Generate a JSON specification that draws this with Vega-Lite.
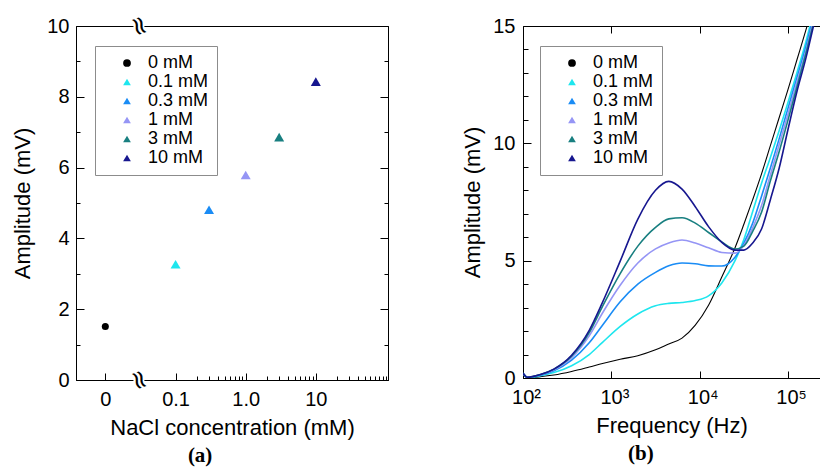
{
  "$schema": "https://vega.github.io/schema/vega-lite/v6.json",
  "background": "white",
  "padding": {"left": 11, "top": 10, "right": 0, "bottom": 2},
  "bounds": "flush",
  "spacing": 135,
  "config": {
    "font": "Liberation Sans",
    "view": {"stroke": "black", "strokeWidth": 1},
    "axis": {"grid": false, "domainColor": "black", "tickColor": "black", "labelColor": "black", "titleColor": "black", "labelFont": "Liberation Sans", "titleFont": "Liberation Sans", "labelFontSize": 20, "titleFontSize": 22, "titleFontWeight": "normal", "domainWidth": 1, "tickWidth": 1},
    "legend": {"fillColor": "white", "strokeColor": "#8c8c8c", "padding": 8, "labelFont": "Liberation Sans", "labelFontSize": 18, "labelColor": "black", "symbolSize": 60, "symbolOffset": 15, "labelOffset": 12, "rowPadding": 1, "symbolStrokeWidth": 0, "symbolOpacity": 1}
  },
  "datasets": {
    "pts": [
      {"c": "0 mM", "conc": 0, "amp": 1.51},
      {"c": "0.1 mM", "conc": 0.1, "amp": 3.27},
      {"c": "0.3 mM", "conc": 0.3, "amp": 4.81},
      {"c": "1 mM", "conc": 1, "amp": 5.79},
      {"c": "3 mM", "conc": 3, "amp": 6.86},
      {"c": "10 mM", "conc": 10, "amp": 8.43}
    ],
    "curves": [
      {"c":"0 mM","f":100,"a":0.2},{"c":"0 mM","f":112,"a":0.0},{"c":"0 mM","f":158,"a":0.06},{"c":"0 mM","f":224,"a":0.13},{"c":"0 mM","f":355,"a":0.28},{"c":"0 mM","f":562,"a":0.47},{"c":"0 mM","f":794,"a":0.62},{"c":"0 mM","f":1259,"a":0.8},{"c":"0 mM","f":1995,"a":0.95},{"c":"0 mM","f":3162,"a":1.2},{"c":"0 mM","f":4467,"a":1.45},{"c":"0 mM","f":6310,"a":1.7},{"c":"0 mM","f":8913,"a":2.25},{"c":"0 mM","f":12589,"a":3.1},{"c":"0 mM","f":17783,"a":4.3},{"c":"0 mM","f":25119,"a":5.55},{"c":"0 mM","f":31623,"a":6.55},{"c":"0 mM","f":39811,"a":7.6},{"c":"0 mM","f":50119,"a":8.7},{"c":"0 mM","f":63096,"a":9.9},{"c":"0 mM","f":79433,"a":11.1},{"c":"0 mM","f":100000,"a":12.3},{"c":"0 mM","f":125893,"a":13.55},{"c":"0 mM","f":158489,"a":14.8},{"c":"0 mM","f":199526,"a":16.1},
      {"c":"0.1 mM","f":100,"a":0.2},{"c":"0.1 mM","f":112,"a":0.02},{"c":"0.1 mM","f":158,"a":0.1},{"c":"0.1 mM","f":224,"a":0.23},{"c":"0.1 mM","f":355,"a":0.52},{"c":"0.1 mM","f":562,"a":1.0},{"c":"0.1 mM","f":794,"a":1.52},{"c":"0.1 mM","f":1259,"a":2.2},{"c":"0.1 mM","f":1995,"a":2.73},{"c":"0.1 mM","f":3162,"a":3.08},{"c":"0.1 mM","f":4467,"a":3.18},{"c":"0.1 mM","f":6310,"a":3.22},{"c":"0.1 mM","f":8913,"a":3.3},{"c":"0.1 mM","f":12589,"a":3.5},{"c":"0.1 mM","f":17783,"a":4.05},{"c":"0.1 mM","f":25119,"a":5.0},{"c":"0.1 mM","f":31623,"a":5.9},{"c":"0.1 mM","f":39811,"a":7.1},{"c":"0.1 mM","f":50119,"a":8.3},{"c":"0.1 mM","f":63096,"a":9.4},{"c":"0.1 mM","f":79433,"a":10.55},{"c":"0.1 mM","f":100000,"a":11.75},{"c":"0.1 mM","f":125893,"a":13.0},{"c":"0.1 mM","f":158489,"a":14.3},{"c":"0.1 mM","f":199526,"a":15.8},
      {"c":"0.3 mM","f":100,"a":0.2},{"c":"0.3 mM","f":112,"a":0.03},{"c":"0.3 mM","f":158,"a":0.12},{"c":"0.3 mM","f":224,"a":0.31},{"c":"0.3 mM","f":355,"a":0.76},{"c":"0.3 mM","f":562,"a":1.5},{"c":"0.3 mM","f":794,"a":2.25},{"c":"0.3 mM","f":1259,"a":3.25},{"c":"0.3 mM","f":1995,"a":4.0},{"c":"0.3 mM","f":3162,"a":4.5},{"c":"0.3 mM","f":4467,"a":4.78},{"c":"0.3 mM","f":6310,"a":4.9},{"c":"0.3 mM","f":8913,"a":4.87},{"c":"0.3 mM","f":12589,"a":4.78},{"c":"0.3 mM","f":17783,"a":4.77},{"c":"0.3 mM","f":25119,"a":5.15},{"c":"0.3 mM","f":31623,"a":5.75},{"c":"0.3 mM","f":39811,"a":6.6},{"c":"0.3 mM","f":50119,"a":7.75},{"c":"0.3 mM","f":63096,"a":8.95},{"c":"0.3 mM","f":79433,"a":10.2},{"c":"0.3 mM","f":100000,"a":11.5},{"c":"0.3 mM","f":125893,"a":12.8},{"c":"0.3 mM","f":158489,"a":14.1},{"c":"0.3 mM","f":199526,"a":15.6},
      {"c":"1 mM","f":100,"a":0.2},{"c":"1 mM","f":112,"a":0.03},{"c":"1 mM","f":158,"a":0.14},{"c":"1 mM","f":224,"a":0.35},{"c":"1 mM","f":355,"a":0.87},{"c":"1 mM","f":562,"a":1.8},{"c":"1 mM","f":794,"a":2.77},{"c":"1 mM","f":1259,"a":3.95},{"c":"1 mM","f":1995,"a":4.9},{"c":"1 mM","f":3162,"a":5.5},{"c":"1 mM","f":4467,"a":5.75},{"c":"1 mM","f":6310,"a":5.88},{"c":"1 mM","f":8913,"a":5.75},{"c":"1 mM","f":12589,"a":5.55},{"c":"1 mM","f":17783,"a":5.35},{"c":"1 mM","f":25119,"a":5.32},{"c":"1 mM","f":31623,"a":5.65},{"c":"1 mM","f":39811,"a":6.4},{"c":"1 mM","f":50119,"a":7.35},{"c":"1 mM","f":63096,"a":8.65},{"c":"1 mM","f":79433,"a":9.95},{"c":"1 mM","f":100000,"a":11.25},{"c":"1 mM","f":125893,"a":12.6},{"c":"1 mM","f":158489,"a":13.9},{"c":"1 mM","f":199526,"a":15.45},
      {"c":"3 mM","f":100,"a":0.2},{"c":"3 mM","f":112,"a":0.03},{"c":"3 mM","f":158,"a":0.15},{"c":"3 mM","f":224,"a":0.38},{"c":"3 mM","f":355,"a":0.93},{"c":"3 mM","f":562,"a":1.93},{"c":"3 mM","f":794,"a":3.05},{"c":"3 mM","f":1259,"a":4.45},{"c":"3 mM","f":1995,"a":5.62},{"c":"3 mM","f":3162,"a":6.42},{"c":"3 mM","f":4467,"a":6.78},{"c":"3 mM","f":6310,"a":6.83},{"c":"3 mM","f":8913,"a":6.6},{"c":"3 mM","f":12589,"a":6.2},{"c":"3 mM","f":17783,"a":5.8},{"c":"3 mM","f":25119,"a":5.5},{"c":"3 mM","f":31623,"a":5.62},{"c":"3 mM","f":39811,"a":6.25},{"c":"3 mM","f":50119,"a":7.06},{"c":"3 mM","f":63096,"a":8.4},{"c":"3 mM","f":79433,"a":9.65},{"c":"3 mM","f":100000,"a":11.0},{"c":"3 mM","f":125893,"a":12.4},{"c":"3 mM","f":158489,"a":13.8},{"c":"3 mM","f":199526,"a":15.3},
      {"c":"10 mM","f":100,"a":0.2},{"c":"10 mM","f":112,"a":0.03},{"c":"10 mM","f":158,"a":0.15},{"c":"10 mM","f":224,"a":0.38},{"c":"10 mM","f":355,"a":0.97},{"c":"10 mM","f":562,"a":2.03},{"c":"10 mM","f":794,"a":3.22},{"c":"10 mM","f":1259,"a":4.98},{"c":"10 mM","f":1995,"a":6.77},{"c":"10 mM","f":3162,"a":8.0},{"c":"10 mM","f":4467,"a":8.38},{"c":"10 mM","f":6310,"a":8.05},{"c":"10 mM","f":8913,"a":7.3},{"c":"10 mM","f":12589,"a":6.45},{"c":"10 mM","f":17783,"a":5.78},{"c":"10 mM","f":25119,"a":5.45},{"c":"10 mM","f":31623,"a":5.45},{"c":"10 mM","f":39811,"a":5.75},{"c":"10 mM","f":50119,"a":6.35},{"c":"10 mM","f":63096,"a":7.6},{"c":"10 mM","f":79433,"a":8.95},{"c":"10 mM","f":100000,"a":10.6},{"c":"10 mM","f":125893,"a":12.2},{"c":"10 mM","f":158489,"a":13.6},{"c":"10 mM","f":199526,"a":15.2}
    ]
  },
  "resolve": {"scale": {"color": "independent", "shape": "independent"}, "legend": {"color": "independent", "shape": "independent"}},
  "hconcat": [
    {
      "width": 312,
      "height": 354,
      "data": {"name": "pts"},
      "title": {"text": "(a)", "orient": "bottom", "anchor": "middle", "frame": "bounds", "font": "Liberation Serif", "fontSize": 21, "fontWeight": "bold", "color": "black", "offset": 7},
      "layer": [
        {
          "layer": [
            {
              "transform": [{"filter": "datum.conc > 0"}],
              "mark": {"type": "point", "filled": true, "size": 100, "opacity": 1, "strokeWidth": 0},
              "encoding": {
                "x": {"field": "conc", "type": "quantitative", "scale": {"type": "log", "domain": [0.0038, 107], "nice": false},
                  "axis": {"orient": "bottom", "values": [0.1, 1, 10],
                    "labelExpr": "datum.value == 1 ? '1.0' : datum.value == 0.1 ? '0.1' : '10'",
                    "ticks": false, "tickSize": 0, "labelPadding": 9, "labelFlush": false, "labelOverlap": false, "title": "NaCl concentration (mM)", "titlePadding": 8}},
                "y": {"field": "amp", "type": "quantitative", "scale": {"domain": [0, 10], "nice": false},
                  "axis": {"orient": "left", "values": [0, 2, 4, 6, 8, 10], "ticks": false, "tickSize": 0,
                    "labelPadding": 7, "title": "Amplitude (mV)", "titlePadding": 12}},
                "color": {"field": "c", "type": "nominal", "scale": {"domain": ["0 mM","0.1 mM","0.3 mM","1 mM","3 mM","10 mM"], "range": ["#000000","#1ee6ee","#1a8cf5","#9595f5","#187f80","#17178f"]},
                  "legend": {"title": null, "orient": "none", "legendX": 19, "legendY": 20}},
                "shape": {"field": "c", "type": "nominal", "scale": {"domain": ["0 mM","0.1 mM","0.3 mM","1 mM","3 mM","10 mM"], "range": ["circle","triangle-up","triangle-up","triangle-up","triangle-up","triangle-up"]},
                  "legend": {"title": null, "orient": "none", "legendX": 19, "legendY": 20}}
              }
            },
            {
              "data": {"values": [{}]},
              "mark": {"type": "text", "text": ""},
              "encoding": {
                "x": {"datum": 1, "type": "quantitative",
                  "axis": {"orient": "bottom", "values": [0.1,0.2,0.3,0.4,0.5,0.6,0.7,0.8,0.9,1,2,3,4,5,6,7,8,9,10,20,30,40,50,60,70,80,90,100],
                    "labels": false, "domain": false, "title": null,
                    "tickSize": {"condition": {"test": "datum.value == 0.1 || datum.value == 1 || datum.value == 10", "value": -7}, "value": -4}}},
                "y": {"datum": 5, "type": "quantitative",
                  "axis": {"orient": "left", "values": [0,1,2,3,4,5,6,7,8,9,10], "labels": false, "domain": false, "title": null,
                    "tickSize": {"condition": {"test": "datum.value % 2 == 0", "value": -8}, "value": -4}}}
              }
            },
            {
              "data": {"values": [{}]},
              "mark": {"type": "point", "shape": "square", "filled": true, "color": "white", "size": 120, "opacity": 1, "strokeWidth": 0},
              "encoding": {"x": {"datum": 0.03, "type": "quantitative", "axis": null}, "y": {"datum": 10, "type": "quantitative", "axis": null}}
            },
            {
              "data": {"values": [{}]},
              "mark": {"type": "point", "shape": "square", "filled": true, "color": "white", "size": 120, "opacity": 1, "strokeWidth": 0},
              "encoding": {"x": {"datum": 0.03, "type": "quantitative", "axis": null}, "y": {"datum": 0, "type": "quantitative", "axis": null}}
            },
            {
              "data": {"values": [{}]},
              "mark": {"type": "text", "text": "≈", "font": "DejaVu Sans", "fontSize": 26, "angle": 70, "color": "black", "align": "center", "baseline": "middle"},
              "encoding": {"x": {"datum": 0.03, "type": "quantitative", "axis": null}, "y": {"datum": 10, "type": "quantitative", "axis": null}}
            },
            {
              "data": {"values": [{}]},
              "mark": {"type": "text", "text": "≈", "font": "DejaVu Sans", "fontSize": 26, "angle": 70, "color": "black", "align": "center", "baseline": "middle"},
              "encoding": {"x": {"datum": 0.03, "type": "quantitative", "axis": null}, "y": {"datum": 0, "type": "quantitative", "axis": null}}
            }
          ],
          "resolve": {"axis": {"x": "independent", "y": "independent"}}
        },
        {
          "transform": [{"filter": "datum.conc == 0"}],
          "mark": {"type": "point", "filled": true, "size": 50, "opacity": 1, "strokeWidth": 0},
          "encoding": {
            "x": {"field": "conc", "type": "quantitative", "scale": {"domain": [-1, 9.64], "nice": false, "zero": false},
              "axis": {"orient": "bottom", "values": [0], "domain": false, "tickSize": -7, "labelPadding": 16, "title": null}},
            "y": {"field": "amp", "type": "quantitative",
              "axis": {"orient": "right", "values": [0,1,2,3,4,5,6,7,8,9,10], "labels": false, "title": null,
                "tickSize": {"condition": {"test": "datum.value % 2 == 0", "value": -8}, "value": -4}}},
            "color": {"field": "c", "type": "nominal", "legend": {"title": null, "orient": "none", "legendX": 19, "legendY": 20}},
            "shape": {"field": "c", "type": "nominal", "legend": {"title": null, "orient": "none", "legendX": 19, "legendY": 20}}
          }
        }
      ],
      "resolve": {"scale": {"x": "independent"}, "axis": {"x": "independent", "y": "independent"}}
    },
    {
      "width": 297,
      "height": 352,
      "view": {"stroke": null},
      "data": {"name": "curves"},
      "title": {"text": "(b)", "orient": "bottom", "anchor": "middle", "frame": "bounds", "font": "Liberation Serif", "fontSize": 21, "fontWeight": "bold", "color": "black", "offset": 7},
      "layer": [
        {
          "mark": {"type": "line", "interpolate": "monotone", "clip": true},
          "encoding": {
            "x": {"field": "f", "type": "quantitative", "scale": {"type": "log", "domain": [100, 230000], "nice": false},
              "axis": {"orient": "bottom", "values": [100, 1000, 10000, 100000],
                "labelExpr": "datum.value == 100 ? '10²' : datum.value == 1000 ? '10³' : datum.value == 10000 ? '10⁴' : '10⁵'",
                "tickSize": -7, "labelPadding": 16, "labelOffset": 3, "labelFlush": false, "labelOverlap": false, "title": "Frequency (Hz)", "titlePadding": 8}},
            "y": {"field": "a", "type": "quantitative", "scale": {"domain": [0, 15], "nice": false},
              "axis": {"orient": "left", "values": [0, 5, 10, 15], "ticks": false, "tickSize": 0,
                "labelPadding": 8, "title": "Amplitude (mV)", "titlePadding": 8}},
            "color": {"field": "c", "type": "nominal", "scale": {"domain": ["0 mM","0.1 mM","0.3 mM","1 mM","3 mM","10 mM"], "range": ["#000000","#1ee6ee","#1a8cf5","#9595f5","#187f80","#17178f"]},
              "legend": {"title": null, "orient": "none", "legendX": 17, "legendY": 20, "symbolOpacity": 1}},
            "strokeWidth": {"condition": {"test": "datum.c == '0 mM'", "value": 1.1}, "value": 1.6}
          }
        },
        {
          "mark": {"type": "point", "filled": true, "opacity": 0, "clip": true},
          "encoding": {
            "x": {"field": "f", "type": "quantitative",
              "axis": {"orient": "top", "values": [1000, 10000, 100000], "labels": false, "tickSize": -7, "title": null}},
            "y": {"field": "a", "type": "quantitative",
              "axis": {"orient": "left", "values": [0,1,2,3,4,5,6,7,8,9,10,11,12,13,14,15], "labels": false, "title": null,
                "tickSize": {"condition": {"test": "datum.value % 5 == 0", "value": -8}, "value": -5}}},
            "color": {"field": "c", "type": "nominal", "legend": {"title": null, "orient": "none", "legendX": 17, "legendY": 20, "symbolOpacity": 1}},
            "shape": {"field": "c", "type": "nominal", "scale": {"domain": ["0 mM","0.1 mM","0.3 mM","1 mM","3 mM","10 mM"], "range": ["circle","triangle-up","triangle-up","triangle-up","triangle-up","triangle-up"]},
              "legend": {"title": null, "orient": "none", "legendX": 17, "legendY": 20, "symbolOpacity": 1}}
          }
        }
      ],
      "resolve": {"axis": {"x": "independent", "y": "independent"}}
    }
  ]
}
